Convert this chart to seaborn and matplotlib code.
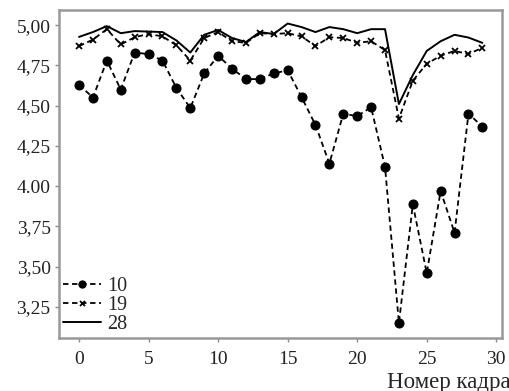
import numpy as np
import pandas as pd
import matplotlib
matplotlib.use("Agg")
import matplotlib.pyplot as plt
import seaborn as sns

frames = list(range(30))
s10 = [4.63, 4.55, 4.78, 4.60, 4.83, 4.82, 4.78, 4.61, 4.485, 4.70,
       4.81, 4.73, 4.665, 4.665, 4.70, 4.72, 4.553, 4.38, 4.14, 4.45,
       4.435, 4.49, 4.12, 3.15, 3.887, 3.46, 3.97, 3.71, 4.45, 4.37]
s19 = [4.87, 4.91, 4.975, 4.88, 4.925, 4.945, 4.93, 4.875, 4.78, 4.92,
       4.957, 4.90, 4.89, 4.95, 4.945, 4.95, 4.93, 4.87, 4.925, 4.92,
       4.89, 4.90, 4.845, 4.42, 4.655, 4.76, 4.81, 4.84, 4.82, 4.86]
s28 = [4.927, 4.957, 4.994, 4.95, 4.963, 4.96, 4.957, 4.905, 4.83, 4.94,
       4.97, 4.92, 4.895, 4.957, 4.945, 5.01, 4.988, 4.957, 4.988, 4.975,
       4.95, 4.975, 4.975, 4.51, 4.69, 4.84, 4.90, 4.94, 4.923, 4.89]
series_names = ["10", "19", "28"]
xticks = [0, 5, 10, 15, 20, 25, 30]
yticks = [3.25, 3.50, 3.75, 4.00, 4.25, 4.50, 4.75, 5.00]
ytick_labels = ["3,25", "3,50", "3,75", "4.00", "4,25", "4,50", "4,75", "5,00"]
xlabel = "Номер кадра"

df = pd.DataFrame({
    "frame": frames * 3,
    "value": s10 + s19 + s28,
    "series": [series_names[0]] * 30 + [series_names[1]] * 30 + [series_names[2]] * 30,
})

sns.set_style("ticks")
plt.rcParams["font.family"] = ["Liberation Serif", "DejaVu Serif"]

fig = plt.figure(figsize=(5.1, 3.91), dpi=100)
ax = fig.add_axes([0.1157, 0.1355, 0.8683, 0.8385])

styles = {
    "10": dict(marker="o", markersize=6.5, markeredgecolor="black",
               linestyle=(0, (3, 2)), lw=1.3),
    "19": dict(marker="x", markersize=4.5, markeredgewidth=1.3,
               markeredgecolor="black", linestyle=(0, (3, 2)), lw=1.3),
    "28": dict(marker=None, linestyle="-", lw=1.4),
}
for name in series_names:
    sub = df[df["series"] == name]
    sns.lineplot(data=sub, x="frame", y="value", ax=ax, color="black",
                 label=name, **styles[name])

ax.set_xlim(-1.44, 30.4)
ax.set_ylim(3.057, 5.093)
ax.set_xticks(xticks)
ax.set_xticklabels([str(t) for t in xticks])
ax.set_yticks(yticks)
ax.set_yticklabels(ytick_labels)
ax.tick_params(axis="both", labelsize=14, colors="#222222", length=3,
               width=1.0, color="#888888", pad=6)
ax.tick_params(axis="y", pad=3)
for sp in ax.spines.values():
    sp.set_color("#999999")
    sp.set_linewidth(1.8)
ax.set_xlabel("")
ax.set_ylabel("")

leg = ax.legend(loc="lower left", frameon=False, fontsize=14.5,
                handlelength=1.9, handletextpad=0.3, labelspacing=0.0,
                borderpad=0.2, borderaxespad=0.0, markerscale=0.8)

fig.text(0.759, 0.008, xlabel, fontsize=16.5, ha="left", va="baseline")

fig.savefig("out.png", dpi=100)
